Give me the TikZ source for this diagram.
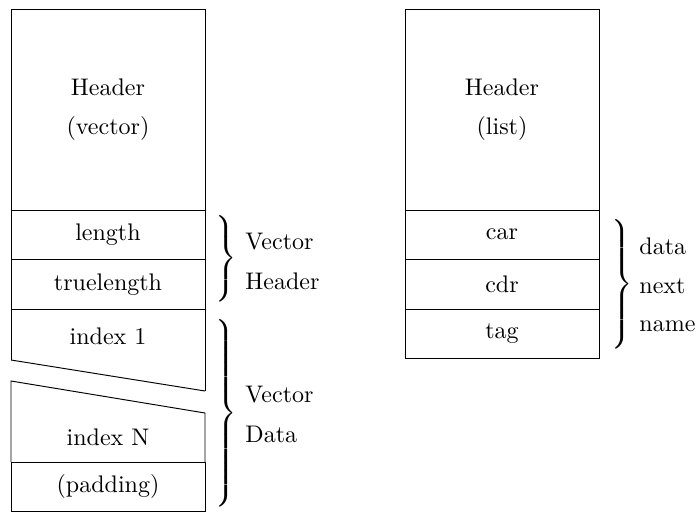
\documentclass[tikz,border=0pt]{standalone}
\begin{document}
\begin{tikzpicture}[x=0.41667pt,y=-0.41667pt,
  cell/.style={draw, line width=0.4pt, minimum width=80.83pt, minimum height=20.625pt, inner sep=0pt, outer sep=0pt},
  bigcell/.style={cell, minimum height=83.75pt, align=center},
  lbl/.style={inner sep=0pt, anchor=west, align=left},
  brc/.style={inner sep=0pt, anchor=east}]
\useasboundingbox (0,0) rectangle (698,512);
\newcommand{\mybrace}[1]{$\delimitershortfall=0pt\delimiterfactor=1000\left.\vcenter{\hrule height #1 width 0pt}\right\}$}
% left column
\node[bigcell] (hv) at (108,109.5) {Header\\[4.5pt](vector)};
\node[cell] (len) at (108,234.75) {length};
\node[cell] (tlen) at (108,284.25) {truelength};
\draw[line width=0.4pt] (11,360) -- (11,309.5) -- (205,309.5) -- (205,391);
\draw[line width=0.4pt] (11,360) -- (205,391);
\node[inner sep=0pt] (i1) at (108,336) {index 1};
\draw[line width=0.4pt] (11,462) -- (11,381) -- (205,413) -- (205,462);
\node[inner sep=0pt] (iN) at (108,437) {index N};
\node[cell] (pad) at (108,486.75) {(padding)};
% right column
\node[bigcell] (hl) at (502,109.5) {Header\\[4.5pt](list)};
\node[cell] (car) at (502,234.75) {car};
\node[cell] (cdr) at (502,284.25) {cdr};
\node[cell] (tag) at (502,333.75) {tag};
% braces
\node[brc] (b1) at (237,258.5) {\mybrace{34pt}};
\node[lbl] (t1) at (245,261.5) {Vector\\[4.5pt]Header};
\node[brc] (b2) at (237,413) {\mybrace{76pt}};
\node[lbl] (t2) at (245,414.5) {Vector\\[4.5pt]Data};
\node[brc] (b3) at (633,284) {\mybrace{52pt}};
\node[lbl] (t3) at (639,285) {data\\[4pt]next\\[4pt]name};
\end{tikzpicture}
\end{document}
